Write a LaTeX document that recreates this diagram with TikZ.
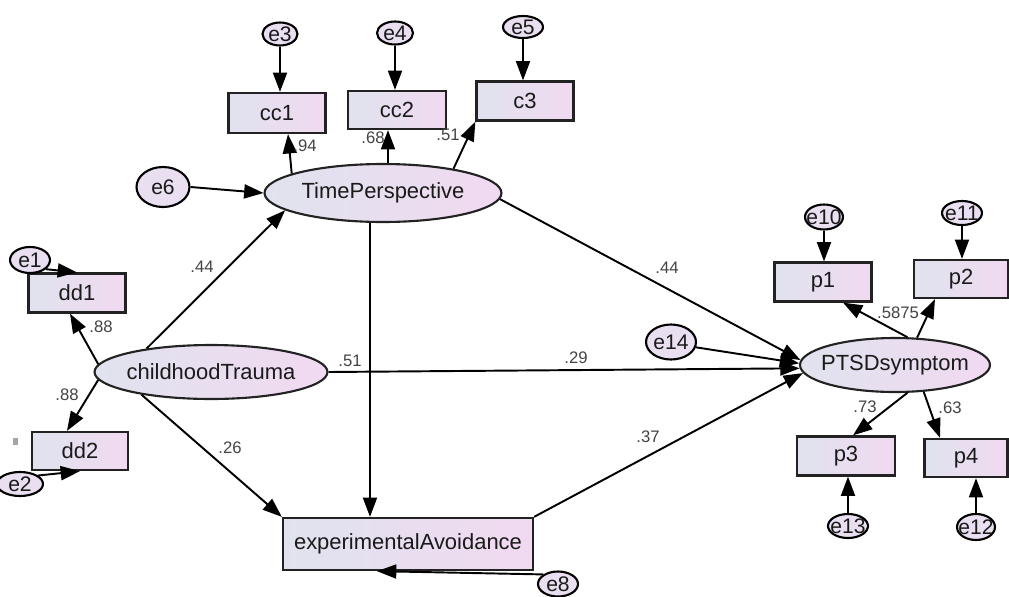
\documentclass[tikz,border=0pt]{standalone}
\usepackage{fontspec}
\setmainfont{Liberation Sans}
\usetikzlibrary{shapes.geometric,arrows.meta,calc,shadings}
\definecolor{lc}{HTML}{E0E3EE}
\definecolor{rc}{HTML}{F1D9F1}
\definecolor{ec}{HTML}{E9DFF1}
\definecolor{edge}{HTML}{222222}
\definecolor{lab}{HTML}{444444}
\definecolor{txt}{HTML}{1A1A1A}
\tikzset{
 box/.style={draw=edge, line width=1.3pt, left color=lc, right color=rc, text=txt, font=\fontsize{12.5}{14}\selectfont, inner sep=0pt},
 lat/.style={ellipse, draw=edge, line width=1.2pt, left color=lc, right color=rc, text=txt, inner sep=-6pt, font=\fontsize{12.5}{14}\selectfont},
 err/.style={ellipse, draw=black, line width=1.2pt, fill=ec, text=txt, inner sep=-4pt, font=\fontsize{12}{13}\selectfont},
 arr/.style={draw=black, line width=1.1pt, -{Triangle[length=11pt,width=8pt]}},
 lbl/.style={font=\fontsize{9.5}{10}\selectfont, text=lab, inner sep=0pt},
}
\begin{document}
\begin{tikzpicture}[x=0.02cm,y=-0.02cm]
\useasboundingbox (0,0) rectangle (1009,596);
\fill[white] (0,0) rectangle (1009,596);

% observed variables
\node[box, minimum width=1.94cm, minimum height=0.8cm] (cc1) at (277,113) {cc1};
\node[box, minimum width=1.96cm, minimum height=0.76cm] (cc2) at (397,110) {cc2};
\node[box, minimum width=1.94cm, minimum height=0.78cm] (c3) at (525,101) {c3};
\node[box, minimum width=1.94cm, minimum height=0.78cm] (dd1) at (77,293) {dd1};
\node[box, minimum width=1.92cm, minimum height=0.76cm] (dd2) at (80,451) {dd2};
\node[box, minimum width=5.0cm, minimum height=1.04cm] (ea) at (408,544) {experimentalAvoidance};
\node[box, minimum width=1.94cm, minimum height=0.78cm] (p1) at (823,282) {p1};
\node[box, minimum width=1.88cm, minimum height=0.76cm] (p2) at (961,279) {p2};
\node[box, minimum width=1.96cm, minimum height=0.78cm] (p3) at (846,456) {p3};
\node[box, minimum width=1.66cm, minimum height=0.76cm] (p4) at (966,458) {p4};

% latent variables
\node[lat, minimum width=4.74cm, minimum height=1.16cm] (tp) at (383,193) {TimePerspective};
\node[lat, minimum width=4.66cm, minimum height=1.08cm] (ct) at (211,372) {childhoodTrauma};
\node[lat, minimum width=3.8cm, minimum height=1.08cm] (pt) at (895,365) {PTSDsymptom};

% error terms
\node[err, minimum width=0.7cm, minimum height=0.46cm] (e3) at (280,34) {e3};
\node[err, minimum width=0.72cm, minimum height=0.46cm] (e4) at (395,33) {e4};
\node[err, minimum width=0.8cm, minimum height=0.44cm] (e5) at (523,27) {e5};
\node[err, minimum width=1.06cm, minimum height=0.8cm] (e6) at (163,187) {e6};
\node[err, minimum width=0.8cm, minimum height=0.52cm] (e1) at (30,260) {e1};
\node[err, minimum width=0.92cm, minimum height=0.48cm] (e2) at (20,484) {e2};
\node[err, minimum width=0.8cm, minimum height=0.5cm] (e8) at (558,584) {e8};
\node[err, minimum width=0.76cm, minimum height=0.5cm] (e10) at (824,217) {e10};
\node[err, minimum width=0.8cm, minimum height=0.48cm] (e11) at (962,213) {e11};
\node[err, minimum width=0.8cm, minimum height=0.48cm] (e13) at (848,526) {e13};
\node[err, minimum width=0.76cm, minimum height=0.52cm] (e12) at (976,527) {e12};
\node[err, minimum width=1.0cm, minimum height=0.7cm] (e14) at (671,342) {e14};

% small mark
\fill[gray!70] (13,438) rectangle (18,445);

% connectors
\draw[arr] (e3.south) -- (e3.south |- cc1.north);
\draw[arr] (e4.south) -- (e4.south |- cc2.north);
\draw[arr] (e5.south) -- (e5.south |- c3.north);
\draw[arr] (tp.168.5) -- ($(cc1.south)+(11,0)$);
\draw[arr] ($(tp.north)+(5,0)$) -- ($(cc2.south)+(-9,0)$);
\draw[arr] (tp.19.7) -- (c3.south west);
\draw[arr] (e6.east) -- (tp.west);
\draw[arr] (ct.160) -- (tp.190);
\draw[arr] (ct.176) -- ($(dd1.south)+(-7,0)$);
\draw[arr] (ct.184) -- ($(dd2.north)+(-13,0)$);
\draw[arr] (ct.198) -- (ea.north west);
\draw[arr] (ct.east) -- (pt.182);
\draw[arr] ($(tp.south)+(-13,0)$) -- ($(ea.north)+(-38,0)$);
\draw[arr] (tp.-3.8) -- (pt.177);
\draw[arr] (ea.north east) -- (pt.185);
\draw[arr] (e14.-12) -- (pt.179.5);
\draw[arr] (pt.66) -- ($(p1.south)+(20,0)$);
\draw[arr] (pt.51) -- ($(p2.south)+(-26,0)$);
\draw[arr] (pt.-66) -- ($(p3.north)+(7,0)$);
\draw[arr] (pt.-43) -- ($(p4.north)+(-26,0)$);
\draw[arr] (e10.south) -- (e10.south |- p1.north);
\draw[arr] (e11.south) -- (e11.south |- p2.north);
\draw[arr] (e13.north) -- (e13.north |- p3.south);
\draw[arr] (e12.north) -- (e12.north |- p4.south);
\draw[arr] (e1.-30) -- (dd1.north);
\draw[arr] (e2.25) -- (dd2.south);
\draw[arr] (e8.north west) -- ($(ea.south)+(-31,0)$);

% coefficient labels
\node[lbl] (l1) at (305,146) {.94};
\node[lbl] (l2) at (373,138) {.68};
\node[lbl] (l3) at (448,135) {.51};
\node[lbl] (l4) at (202,267) {.44};
\node[lbl] (l5) at (101,327) {.88};
\node[lbl] (l6) at (67,395) {.88};
\node[lbl] (l7) at (350,361) {.51};
\node[lbl] (l8) at (576,358) {.29};
\node[lbl] (l9) at (667,268) {.44};
\node[lbl] (l10) at (230,448) {.26};
\node[lbl] (l11) at (648,437) {.37};
\node[lbl] (l12) at (898,313) {.5875};
\node[lbl] (l13) at (865,407) {.73};
\node[lbl] (l14) at (950,408) {.63};
\end{tikzpicture}
\end{document}
